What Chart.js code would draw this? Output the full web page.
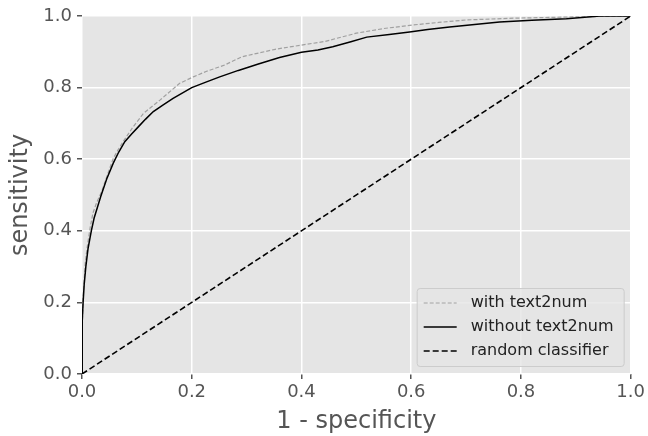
<!DOCTYPE html>
<html>
<head>
<meta charset="utf-8">
<script src="https://cdn.jsdelivr.net/npm/chart.js@4/dist/chart.umd.min.js"></script>
<style>
  html, body { margin: 0; padding: 0; background: #fff; }
  #wrap { width: 648px; height: 436px; }
</style>
</head>
<body>
<div id="wrap"><canvas id="roc"></canvas></div>
<script>
// ROC curves
const fprWith = [0, 0, 0.001, 0.002, 0.004, 0.006, 0.01, 0.015, 0.02, 0.027, 0.036, 0.046, 0.057, 0.066, 0.075, 0.093, 0.112, 0.142, 0.178, 0.203, 0.226, 0.26, 0.291, 0.352, 0.397, 0.443, 0.5, 0.55, 0.603, 0.65, 0.70, 0.79, 0.88, 0.95, 1];
const tprWith = [0, 0.08, 0.16, 0.21, 0.26, 0.31, 0.36, 0.41, 0.45, 0.48, 0.51, 0.555, 0.602, 0.627, 0.649, 0.69, 0.728, 0.765, 0.812, 0.830, 0.845, 0.863, 0.886, 0.907, 0.918, 0.929, 0.952, 0.965, 0.975, 0.982, 0.989, 0.994, 0.997, 0.999, 1];

const fprWithout = [0, 0, 0.001, 0.002, 0.004, 0.007, 0.011, 0.017, 0.022, 0.028, 0.034, 0.045, 0.057, 0.067, 0.078, 0.09, 0.103, 0.116, 0.130, 0.148, 0.166, 0.2, 0.227, 0.251, 0.285, 0.32, 0.36, 0.4, 0.43, 0.457, 0.49, 0.519, 0.56, 0.597, 0.63, 0.67, 0.72, 0.761, 0.82, 0.883, 0.944, 1];
const tprWithout = [0, 0.07, 0.15, 0.2, 0.25, 0.3, 0.35, 0.4, 0.435, 0.465, 0.495, 0.545, 0.589, 0.62, 0.649, 0.67, 0.691, 0.712, 0.733, 0.752, 0.770, 0.80, 0.816, 0.830, 0.848, 0.865, 0.884, 0.899, 0.905, 0.914, 0.928, 0.941, 0.948, 0.955, 0.962, 0.969, 0.977, 0.983, 0.988, 0.992, 1.0, 1.0];

const randomX = [0, 1];
const randomY = [0, 1];

const seriesLabels = ['with text2num', 'without text2num', 'random classifier'];
const xTitle = '1 - specificity';
const yTitle = 'sensitivity';

const toPoints = (xs, ys) => xs.map((x, i) => ({ x: x, y: ys[i] }));

const FONT = "'DejaVu Sans', sans-serif";
const TEXT = '#555555';

// grey panel behind the plot
const panelBg = {
  id: 'panelBg',
  beforeDraw(chart) {
    const { ctx, chartArea: a } = chart;
    ctx.save();
    ctx.fillStyle = '#e5e5e5';
    ctx.fillRect(a.left, a.top, a.right - a.left, a.bottom - a.top);
    ctx.restore();
  }
};

// legend box in the lower right corner
const cornerLegend = {
  id: 'cornerLegend',
  afterDraw(chart) {
    const { ctx, chartArea: a } = chart;
    const w = 207, h = 78;
    const x0 = a.right - 7 - w, y0 = a.bottom - 8 - h;
    ctx.save();
    ctx.fillStyle = 'rgba(229,229,229,0.8)';
    ctx.strokeStyle = '#cccccc';
    ctx.lineWidth = 1;
    ctx.beginPath();
    ctx.roundRect(x0 + 0.5, y0 + 0.5, w, h, 3);
    ctx.fill();
    ctx.stroke();
    ctx.font = '16px ' + FONT;
    ctx.textBaseline = 'middle';
    chart.data.datasets.forEach((ds, i) => {
      const cy = y0 + 15 + i * 24;
      ctx.strokeStyle = ds.borderColor;
      ctx.lineWidth = ds.borderWidth;
      ctx.setLineDash(ds.borderDash || []);
      ctx.beginPath();
      ctx.moveTo(x0 + 7, cy);
      ctx.lineTo(x0 + 40, cy);
      ctx.stroke();
      ctx.setLineDash([]);
      ctx.fillStyle = '#222';
      ctx.fillText(ds.label, x0 + 54, cy);
    });
    ctx.restore();
  }
};

new Chart(document.getElementById('roc').getContext('2d'), {
  type: 'scatter',
  data: {
    datasets: [{
      label: seriesLabels[0],
      data: toPoints(fprWith, tprWith),
      showLine: true,
      borderColor: '#a0a0a0',
      borderWidth: 1.2,
      borderDash: [4, 2],
      pointRadius: 0,
      order: 3
    }, {
      label: seriesLabels[1],
      data: toPoints(fprWithout, tprWithout),
      showLine: true,
      borderColor: '#000000',
      borderWidth: 1.5,
      pointRadius: 0,
      order: 2
    }, {
      label: seriesLabels[2],
      data: toPoints(randomX, randomY),
      showLine: true,
      borderColor: '#000000',
      borderWidth: 1.6,
      borderDash: [6, 3],
      pointRadius: 0,
      order: 1
    }]
  },
  options: {
    responsive: true,
    maintainAspectRatio: false,
    animation: false,
    layout: { padding: { top: 16, right: 17, left: 0, bottom: 0 } },
    plugins: {
      legend: { display: false },
      tooltip: { enabled: false }
    },
    scales: {
      x: {
        type: 'linear',
        min: 0,
        max: 1,
        border: { display: false },
        grid: { color: '#ffffff', lineWidth: 1.5, tickColor: TEXT, tickLength: 5 },
        ticks: {
          stepSize: 0.2,
          padding: 3,
          color: TEXT,
          font: { family: FONT, size: 18 },
          maxRotation: 0,
          callback: v => v.toFixed(1)
        },
        title: {
          display: true,
          text: xTitle,
          color: TEXT,
          font: { family: FONT, size: 24 },
          padding: { top: 0, bottom: 0 }
        },
        afterFit(scale) { scale.height = 62; }
      },
      y: {
        type: 'linear',
        min: 0,
        max: 1,
        border: { display: false },
        grid: { color: '#ffffff', lineWidth: 1.5, tickColor: TEXT, tickLength: 5 },
        ticks: {
          stepSize: 0.2,
          padding: 5,
          color: TEXT,
          font: { family: FONT, size: 18 },
          callback: v => v.toFixed(1)
        },
        title: {
          display: true,
          text: yTitle,
          color: TEXT,
          font: { family: FONT, size: 24 },
          padding: { top: 6, bottom: 0 }
        },
        afterFit(scale) { scale.width = 82; }
      }
    }
  },
  plugins: [panelBg, cornerLegend]
});
</script>
</body>
</html>
